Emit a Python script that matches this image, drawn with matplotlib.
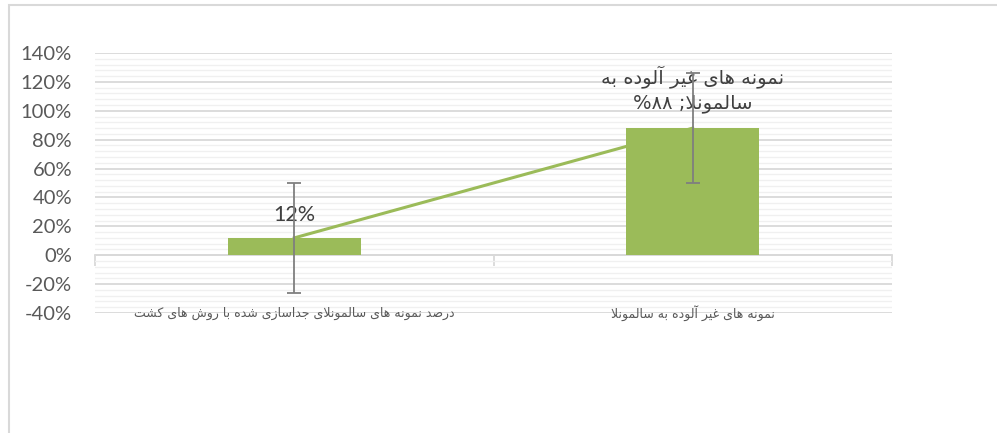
import matplotlib
matplotlib.use('Agg')
import matplotlib.pyplot as plt
import matplotlib.font_manager as fm
from matplotlib.ft2font import FT2Font
from matplotlib.ticker import MultipleLocator, FuncFormatter

# داده ها
categories = ['درصد نمونه های سالمونلای جداسازی شده با روش های کشت',
              'نمونه های غیر آلوده به سالمونلا']
values = [0.12, 0.88]
errors = [0.38, 0.38]
label_line1 = 'نمونه های غیر آلوده به'
label_word2 = 'سالمونلا'
label_value2 = '۸۸'

GREEN = '#9BBB59'
GRID_MAJOR = '#D9D9D9'
GRID_MINOR = '#F0F0F0'
TEXT = '#595959'

# --- شکل دهی ساده حروف فارسی (matplotlib خودش این کار را نمی کند) ---
cmap = FT2Font(fm.findfont('DejaVu Sans')).get_charmap()

FORMS = {
    'ا': (0xFE8D, 0xFE8E, None, None),
    'آ': (0xFE81, 0xFE82, None, None),
    'ب': (0xFE8F, 0xFE90, 0xFE91, 0xFE92),
    'ت': (0xFE95, 0xFE96, 0xFE97, 0xFE98),
    'ج': (0xFE9D, 0xFE9E, 0xFE9F, 0xFEA0),
    'د': (0xFEA9, 0xFEAA, None, None),
    'ر': (0xFEAD, 0xFEAE, None, None),
    'ز': (0xFEAF, 0xFEB0, None, None),
    'س': (0xFEB1, 0xFEB2, 0xFEB3, 0xFEB4),
    'ش': (0xFEB5, 0xFEB6, 0xFEB7, 0xFEB8),
    'ص': (0xFEB9, 0xFEBA, 0xFEBB, 0xFEBC),
    'غ': (0xFECD, 0xFECE, 0xFECF, 0xFED0),
    'ل': (0xFEDD, 0xFEDE, 0xFEDF, 0xFEE0),
    'م': (0xFEE1, 0xFEE2, 0xFEE3, 0xFEE4),
    'ن': (0xFEE5, 0xFEE6, 0xFEE7, 0xFEE8),
    'ه': (0xFEE9, 0xFEEA, 0xFEEB, 0xFEEC),
    'و': (0xFEED, 0xFEEE, None, None),
}
if 0xFBFC in cmap:
    FORMS['ی'] = (0xFBFC, 0xFBFD, 0xFBFE, 0xFBFF)
else:
    FORMS['ی'] = (0xFEEF, 0xFEF0, 0xFEF3, 0xFEF4)
if 0xFB8E in cmap:
    FORMS['ک'] = (0xFB8E, 0xFB8F, 0xFB90, 0xFB91)
else:
    FORMS['ک'] = (0xFED9, 0xFEDA, 0xFEDB, 0xFEDC)
LIGATURES = {'ا': (0xFEFB, 0xFEFC), 'آ': (0xFEF5, 0xFEF6)}


def shape(text):
    chars = list(text)
    out = []
    i = 0
    while i < len(chars):
        c = chars[i]
        prev = chars[i - 1] if i > 0 else ''
        prev_joins = prev in FORMS and FORMS[prev][2] is not None
        if c == 'ل' and i + 1 < len(chars) and chars[i + 1] in LIGATURES:
            iso, fin = LIGATURES[chars[i + 1]]
            out.append(chr(fin if prev_joins else iso))
            i += 2
            continue
        if c not in FORMS:
            out.append(c)
            i += 1
            continue
        nxt = chars[i + 1] if i + 1 < len(chars) else ''
        next_joins = nxt in FORMS
        iso, fin, ini, med = FORMS[c]
        if ini is None:
            form = fin if prev_joins else iso
        elif prev_joins and next_joins:
            form = med
        elif prev_joins:
            form = fin
        elif next_joins:
            form = ini
        else:
            form = iso
        out.append(chr(form))
        i += 1
    return ''.join(out)


def visual(text):
    return shape(text)[::-1]


plt.rcParams['font.family'] = ['Lato', 'DejaVu Sans']

fig = plt.figure(figsize=(9.97, 4.33), dpi=100)
# قاب دور نمودار
fig.patches.append(plt.Rectangle((8.5 / 997, -0.1), 1.2, 1.1 - 5.0 / 433,
                                 transform=fig.transFigure, fill=False,
                                 edgecolor='#D9D9D9', linewidth=1.5))

ax = fig.add_axes([95 / 997, 1 - 313 / 433, 797 / 997, 260 / 433])

x = [0.5, 1.5]
ax.bar(x, values, width=0.335, color=GREEN, zorder=3)
ax.errorbar(x, values, yerr=errors, fmt='none', ecolor='#7F7F7F',
            elinewidth=1.3, capsize=5, capthick=1.3, zorder=4)
ax.plot(x, values, color=GREEN, linewidth=2.2, zorder=3.5)

ax.set_xlim(0, 2)
ax.set_ylim(-0.4, 1.4)
ax.yaxis.set_major_locator(MultipleLocator(0.2))
ax.yaxis.set_minor_locator(MultipleLocator(0.04))
ax.yaxis.set_major_formatter(FuncFormatter(lambda v, p: '%d%%' % round(v * 100)))
ax.grid(which='major', axis='y', color=GRID_MAJOR, linewidth=1.3, zorder=0)
ax.grid(which='minor', axis='y', color=GRID_MINOR, linewidth=1.0, zorder=0)
ax.set_axisbelow(True)

for s in ['top', 'right', 'left']:
    ax.spines[s].set_visible(False)
ax.spines['bottom'].set_position(('data', 0))
ax.spines['bottom'].set_color(GRID_MAJOR)
ax.spines['bottom'].set_linewidth(1.3)
ax.set_xticks([0, 1, 2])
ax.set_xticklabels([])
ax.tick_params(axis='x', direction='out', length=8, width=1.3, color=GRID_MAJOR)
ax.tick_params(axis='y', which='both', length=0, pad=16.5, labelsize=14.5, labelcolor=TEXT)
ax.tick_params(axis='x', which='minor', length=0)

# برچسب دسته ها در پایین
for xi, cat in zip(x, categories):
    ax.text(xi, -0.4, visual(cat), ha='center', va='center', fontsize=9,
            color=TEXT, family=['DejaVu Sans'])

# برچسب داده ها
ax.text(x[0], 0.28, '12%', ha='center', va='center', fontsize=15.5, color='#404040')
line2 = '%' + label_value2 + ' ;' + visual(label_word2)
ax.text(x[1], 1.15, visual(label_line1) + '\n' + line2, ha='center', va='center',
        fontsize=14, color='#404040', linespacing=1.35, family=['DejaVu Sans'])

plt.savefig('out.png', dpi=100)
